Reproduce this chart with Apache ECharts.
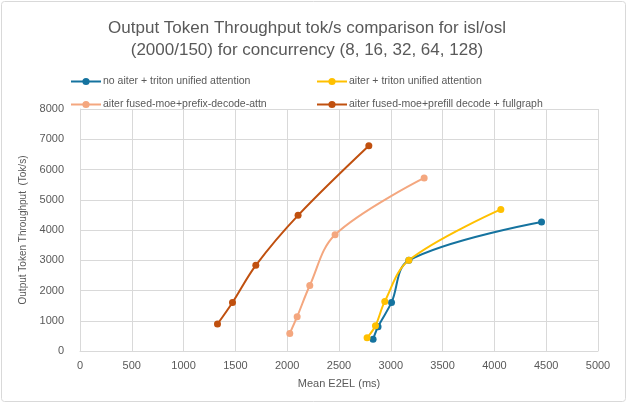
<!DOCTYPE html>
<html>
<head>
<meta charset="utf-8">
<script src="https://cdn.jsdelivr.net/npm/echarts@6/dist/echarts.min.js"></script>
<style>
  html, body { margin: 0; padding: 0; background: #fff; }
  #chart { width: 628px; height: 404px; }
</style>
</head>
<body>
<div id="chart"></div>
<script>
// series names
const seriesNames = [
  'no aiter + triton unified attention',
  'aiter + triton unified attention',
  'aiter fused-moe+prefix-decode-attn',
  'aiter fused-moe+prefill decode + fullgraph'
];
const seriesColors = ['#15739F', '#FFC000', '#F4A77F', '#C0500F'];

// [Mean E2EL (ms), Output Token Throughput (tok/s)] for concurrency 8,16,32,64,128
const noAiterTriton = [[2829, 391], [2877, 803], [3007, 1605], [3174, 2997], [4455, 4268]];
const aiterTriton = [[2771, 435], [2852, 836], [2942, 1639], [3174, 2997], [4062, 4679]];
const aiterPrefixDecode = [[2025, 582], [2096, 1134], [2218, 2164], [2462, 3843], [3322, 5720]];
const aiterPrefillFullgraph = [[1327, 893], [1472, 1605], [1697, 2833], [2105, 4485], [2788, 6785]];

const allData = [noAiterTriton, aiterTriton, aiterPrefixDecode, aiterPrefillFullgraph];

const textColor = '#595959';
const gridColor = '#D9D9D9';
const font = 'Liberation Sans';

const chart = echarts.init(document.getElementById('chart'), null, { renderer: 'canvas' });

// legend positions (2 columns x 2 rows)
const legendPos = [[70, 76], [316, 76], [70, 99], [316, 99]];

chart.setOption({
  animation: false,
  textStyle: { fontFamily: font },
  title: {
    text: 'Output Token Throughput tok/s comparison for isl/osl\n(2000/150) for concurrency (8, 16, 32, 64, 128)',
    left: 302,
    textAlign: 'center',
    top: 12,
    textStyle: { fontSize: 17, fontWeight: 'normal', color: textColor, lineHeight: 22, fontFamily: font }
  },
  legend: seriesNames.map((name, i) => ({
    data: [name],
    left: legendPos[i][0],
    top: legendPos[i][1],
    itemWidth: 30,
    itemHeight: 9,
    itemGap: 4,
    padding: 0,
    textStyle: { fontSize: 10.5, color: textColor, fontFamily: font, padding: [0, 0, 0, -3] }
  })),
  grid: { left: 80, right: 30, top: 109, bottom: 53 },
  xAxis: {
    type: 'value',
    min: 0,
    max: 5000,
    interval: 500,
    name: 'Mean E2EL (ms)',
    nameLocation: 'middle',
    nameGap: 27,
    nameTextStyle: { fontSize: 11, color: textColor },
    axisLine: { show: true, lineStyle: { color: gridColor, width: 1 } },
    axisTick: { show: false },
    axisLabel: { fontSize: 11, color: textColor, margin: 9, formatter: v => String(v) },
    splitLine: { show: true, lineStyle: { color: gridColor, width: 1 } }
  },
  yAxis: {
    type: 'value',
    min: 0,
    max: 8000,
    interval: 1000,
    name: 'Output Token Throughput  (Tok/s)',
    nameLocation: 'middle',
    nameGap: 42,
    nameTextStyle: { fontSize: 10, color: textColor },
    axisLine: { show: true, lineStyle: { color: gridColor, width: 1 } },
    axisTick: { show: false },
    axisLabel: { fontSize: 11, color: textColor, margin: 16, formatter: v => String(v) },
    splitLine: { show: true, lineStyle: { color: gridColor, width: 1 } }
  },
  graphic: [{
    type: 'rect',
    shape: { x: 1.5, y: 1.5, width: 624, height: 400, r: 3 },
    style: { fill: 'none', stroke: '#D9D9D9', lineWidth: 1 },
    silent: true
  }],
  series: seriesNames.map((name, i) => ({
    name,
    type: 'line',
    data: allData[i],
    smooth: 0.35,
    symbol: 'circle',
    symbolSize: 7,
    lineStyle: { color: seriesColors[i], width: 2 },
    itemStyle: { color: seriesColors[i] }
  }))
});
</script>
</body>
</html>
